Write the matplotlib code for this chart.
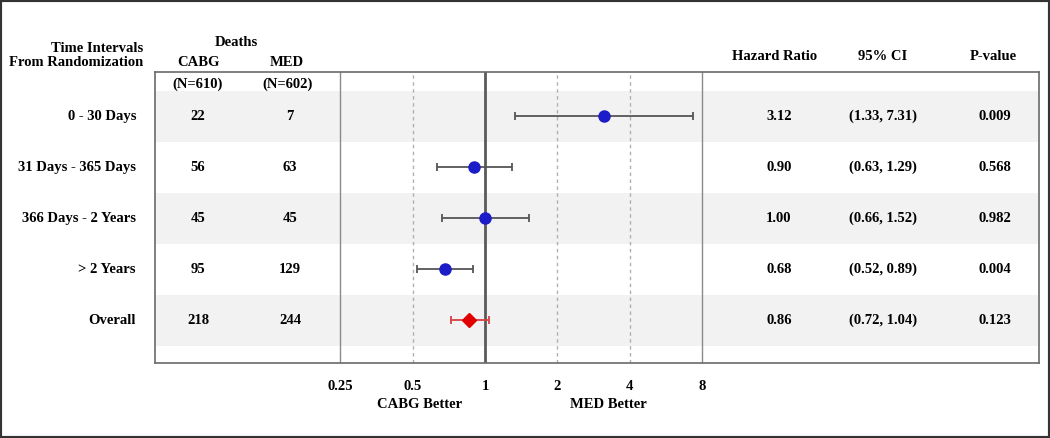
import matplotlib
matplotlib.use("Agg")
from matplotlib import pyplot as plt
from matplotlib import transforms
from matplotlib.patches import Rectangle

# data
intervals = ["0 - 30 Days", "31 Days - 365 Days", "366 Days - 2 Years", "> 2 Years", "Overall"]
cabg_deaths = [22, 56, 45, 95, 218]
med_deaths = [7, 63, 45, 129, 244]
hazard_ratio = [3.12, 0.90, 1.00, 0.68, 0.86]
ci_low = [1.33, 0.63, 0.66, 0.52, 0.72]
ci_high = [7.31, 1.29, 1.52, 0.89, 1.04]
p_values = ["0.009", "0.568", "0.982", "0.004", "0.123"]
x_ticks = [0.25, 0.5, 1, 2, 4, 8]
x_tick_labels = ["0.25", "0.5", "1", "2", "4", "8"]

plt.rcParams["font.family"] = ["Liberation Serif", "DejaVu Serif"]
plt.rcParams["font.weight"] = "bold"
fs = 10.5

W, H = 1050, 438
fig = plt.figure(figsize=(W / 100, H / 100), dpi=100)
ax = fig.add_axes([155 / W, 1 - 363 / H, (1039 - 155) / W, (363 - 72) / H])

# helpers: pixel x -> figure fraction, pixel y -> figure fraction
fx = lambda x: x / W
fy = lambda y: 1 - y / H

ax.set_xscale("log", base=2)
ax.set_xlim(2 ** ((155 - 485) / 72.4), 2 ** ((1039 - 485) / 72.4))
ax.set_ylim(4.843, -0.863)

# shaded bands
for i in range(0, len(intervals), 2):
    ax.axhspan(i - 0.5, i + 0.5, color="#f2f2f2", zorder=0, lw=0)

# reference lines
for v in [0.25, 8]:
    ax.axvline(v, color="#8a8a8a", lw=1.0, zorder=1)
for v in [0.5, 2, 4]:
    ax.axvline(v, color="#b0b0b0", lw=1.0, ls=(0, (2.5, 2.5)), zorder=1)
ax.axvline(1, color="#5a5a5a", lw=2.0, zorder=2)

# estimates
n = len(intervals)
rows = list(range(n))
for i in rows:
    overall = intervals[i] == "Overall"
    ecol = "#d84040" if overall else "#555555"
    ax.errorbar(hazard_ratio[i], i,
                xerr=[[hazard_ratio[i] - ci_low[i]], [ci_high[i] - hazard_ratio[i]]],
                fmt="none", ecolor=ecol, elinewidth=1.3, capsize=3, capthick=1.3, zorder=3)
    if overall:
        ax.plot(hazard_ratio[i], i, marker="D", ms=7.2, color="#e00000", ls="none", zorder=4)
    else:
        ax.plot(hazard_ratio[i], i, marker="o", ms=8, color="#1c1cc8", ls="none", zorder=4)

# axes styling
for sp in ax.spines.values():
    sp.set_color("#6a6a6a")
    sp.set_linewidth(1.2)
ax.set_yticks([])
ax.set_xticks(x_ticks)
ax.set_xticklabels(x_tick_labels, fontsize=fs, fontweight="bold")
ax.tick_params(axis="x", which="major", length=0, pad=12)
ax.set_xticks([0.25, 8], minor=True)
ax.xaxis.set_minor_formatter(plt.NullFormatter())
ax.tick_params(axis="x", which="minor", length=5, width=1, color="#555555")

# table text in rows
rt = transforms.blended_transform_factory(fig.transFigure, ax.transData)
for i in rows:
    ax.text(fx(136), i, intervals[i], transform=rt, ha="right", va="center", fontsize=fs)
    ax.text(fx(198), i, str(cabg_deaths[i]), transform=rt, ha="center", va="center", fontsize=fs)
    ax.text(fx(290), i, str(med_deaths[i]), transform=rt, ha="center", va="center", fontsize=fs)
    ax.text(fx(779), i, f"{hazard_ratio[i]:.2f}", transform=rt, ha="center", va="center", fontsize=fs)
    ax.text(fx(883), i, f"({ci_low[i]:.2f}, {ci_high[i]:.2f})", transform=rt,
            ha="center", va="center", fontsize=fs)
    ax.text(fx(995), i, p_values[i], transform=rt, ha="center", va="center", fontsize=fs)

ax.text(fx(198), -0.63, "(N=610)", transform=rt, ha="center", va="center", fontsize=fs)
ax.text(fx(288), -0.63, "(N=602)", transform=rt, ha="center", va="center", fontsize=fs)

# headers
fig.text(fx(143), fy(48), "Time Intervals", ha="right", va="center", fontsize=fs)
fig.text(fx(143), fy(63), "From Randomization", ha="right", va="center", fontsize=fs)
fig.text(fx(236), fy(43), "Deaths", ha="center", va="center", fontsize=fs)
fig.text(fx(198), fy(62), "CABG", ha="center", va="center", fontsize=fs)
fig.text(fx(287), fy(62), "MED", ha="center", va="center", fontsize=fs)
fig.text(fx(775), fy(56), "Hazard Ratio", ha="center", va="center", fontsize=fs)
fig.text(fx(883), fy(56), "95% CI", ha="center", va="center", fontsize=fs)
fig.text(fx(993), fy(56), "P-value", ha="center", va="center", fontsize=fs)

fig.text(fx(420), fy(405), "CABG Better", ha="center", va="center", fontsize=fs)
fig.text(fx(608), fy(405), "MED Better", ha="center", va="center", fontsize=fs)

# outer frame
fig.patches.append(Rectangle((0, 0), 1, 1, transform=fig.transFigure, fill=False,
                             edgecolor="#333333", lw=3))

fig.savefig("out.png", dpi=100)
